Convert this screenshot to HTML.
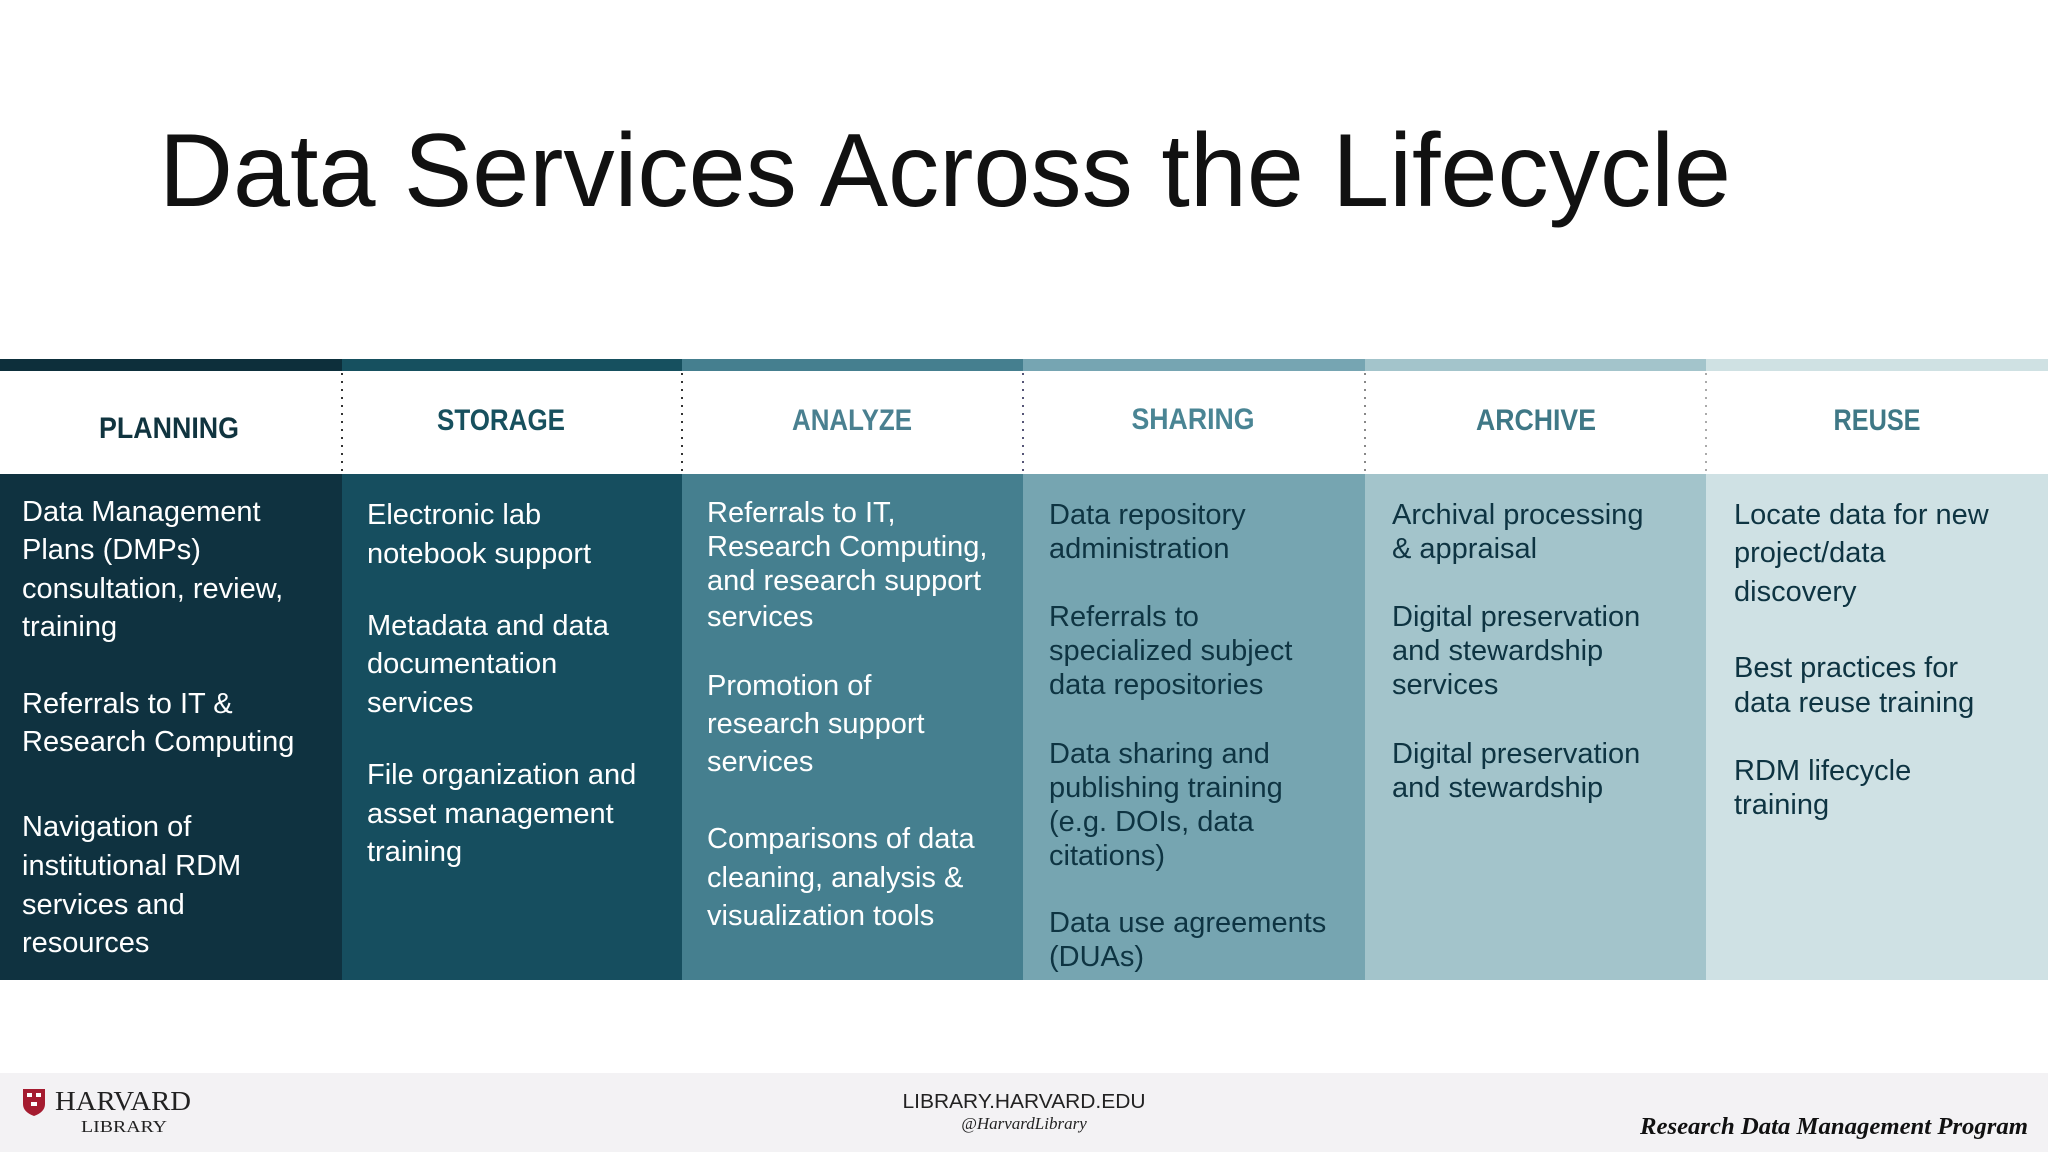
<!DOCTYPE html>
<html><head><meta charset="utf-8"><style>
html,body{margin:0;padding:0;background:#fff}
svg{display:block}
</style></head><body>
<svg width="2048" height="1152" viewBox="0 0 2048 1152" xmlns="http://www.w3.org/2000/svg" font-family="Liberation Sans, sans-serif">
<rect width="2048" height="1152" fill="#ffffff"/>
<text x="159" y="206" font-size="104" fill="#111" textLength="1572" lengthAdjust="spacingAndGlyphs">Data Services Across the Lifecycle</text>

<!-- top bar -->
<rect x="0" y="359" width="342" height="12" fill="#0d2f3b"/>
<rect x="342" y="359" width="340" height="12" fill="#16505f"/>
<rect x="682" y="359" width="341" height="12" fill="#457f8f"/>
<rect x="1023" y="359" width="342" height="12" fill="#76a5b2"/>
<rect x="1365" y="359" width="341" height="12" fill="#a3c4cb"/>
<rect x="1706" y="359" width="342" height="12" fill="#cfe1e3"/>

<!-- dotted separators -->
<g stroke-dasharray="2 6" stroke-width="2">
<line x1="342" y1="373" x2="342" y2="472" stroke="#333"/>
<line x1="682" y1="373" x2="682" y2="472" stroke="#333"/>
<line x1="1023" y1="373" x2="1023" y2="472" stroke="#557"/>
<line x1="1365" y1="373" x2="1365" y2="472" stroke="#888"/>
<line x1="1706" y1="373" x2="1706" y2="472" stroke="#aaa"/>
</g>

<!-- headers -->
<g font-weight="bold" font-size="30" text-anchor="middle">
<text x="169" y="438" fill="#10343f" textLength="140" lengthAdjust="spacingAndGlyphs">PLANNING</text>
<text x="501" y="430" fill="#17505e" textLength="128" lengthAdjust="spacingAndGlyphs">STORAGE</text>
<text x="852" y="430" fill="#4a8090" textLength="120" lengthAdjust="spacingAndGlyphs">ANALYZE</text>
<text x="1193" y="429" fill="#4a8594" textLength="123" lengthAdjust="spacingAndGlyphs">SHARING</text>
<text x="1536" y="430" fill="#3f7886" textLength="120" lengthAdjust="spacingAndGlyphs">ARCHIVE</text>
<text x="1877" y="430" fill="#3f7886" textLength="87" lengthAdjust="spacingAndGlyphs">REUSE</text>
</g>

<!-- body columns -->
<rect x="0" y="474" width="342" height="506" fill="#0f3240"/>
<rect x="342" y="474" width="340" height="506" fill="#164e5f"/>
<rect x="682" y="474" width="341" height="506" fill="#457f8f"/>
<rect x="1023" y="474" width="342" height="506" fill="#76a5b1"/>
<rect x="1365" y="474" width="341" height="506" fill="#a3c4cb"/>
<rect x="1706" y="474" width="342" height="506" fill="#cfe1e4"/>

<g font-size="29" fill="#fff">
<text x="22" y="521">Data Management</text>
<text x="22" y="559">Plans (DMPs)</text>
<text x="22" y="598">consultation, review,</text>
<text x="22" y="636">training</text>
<text x="22" y="713">Referrals to IT &amp;</text>
<text x="22" y="751">Research Computing</text>
<text x="22" y="836">Navigation of</text>
<text x="22" y="875">institutional RDM</text>
<text x="22" y="914">services and</text>
<text x="22" y="952">resources</text>

<text x="367" y="524">Electronic lab</text>
<text x="367" y="563">notebook support</text>
<text x="367" y="635">Metadata and data</text>
<text x="367" y="673">documentation</text>
<text x="367" y="712">services</text>
<text x="367" y="784">File organization and</text>
<text x="367" y="823">asset management</text>
<text x="367" y="861">training</text>

<text x="707" y="522">Referrals to IT,</text>
<text x="707" y="556">Research Computing,</text>
<text x="707" y="590">and research support</text>
<text x="707" y="626">services</text>
<text x="707" y="695">Promotion of</text>
<text x="707" y="733">research support</text>
<text x="707" y="771">services</text>
<text x="707" y="848">Comparisons of data</text>
<text x="707" y="887">cleaning, analysis &amp;</text>
<text x="707" y="925">visualization tools</text>
</g>
<g font-size="29" fill="#0e3442">
<text x="1049" y="524">Data repository</text>
<text x="1049" y="558">administration</text>
<text x="1049" y="626">Referrals to</text>
<text x="1049" y="660">specialized subject</text>
<text x="1049" y="694">data repositories</text>
<text x="1049" y="763">Data sharing and</text>
<text x="1049" y="797">publishing training</text>
<text x="1049" y="831">(e.g. DOIs, data</text>
<text x="1049" y="865">citations)</text>
<text x="1049" y="932">Data use agreements</text>
<text x="1049" y="966">(DUAs)</text>

<text x="1392" y="524">Archival processing</text>
<text x="1392" y="558">&amp; appraisal</text>
<text x="1392" y="626">Digital preservation</text>
<text x="1392" y="660">and stewardship</text>
<text x="1392" y="694">services</text>
<text x="1392" y="763">Digital preservation</text>
<text x="1392" y="797">and stewardship</text>

<text x="1734" y="524">Locate data for new</text>
<text x="1734" y="562">project/data</text>
<text x="1734" y="601">discovery</text>
<text x="1734" y="677">Best practices for</text>
<text x="1734" y="712">data reuse training</text>
<text x="1734" y="780">RDM lifecycle</text>
<text x="1734" y="814">training</text>
</g>

<!-- footer -->
<rect x="0" y="1073" width="2048" height="79" fill="#f3f2f4"/>
<path d="M23 1089 H45 V1104 Q45 1112 34 1116 Q23 1112 23 1104 Z" fill="#a51c30"/>
<g fill="#fff"><rect x="27" y="1093" width="5" height="4"/><rect x="36" y="1093" width="5" height="4"/><rect x="31" y="1102" width="6" height="4"/></g>
<text x="55" y="1110" font-family="Liberation Serif, serif" font-size="27" fill="#222" textLength="136" lengthAdjust="spacingAndGlyphs">HARVARD</text>
<text x="81" y="1132" font-family="Liberation Serif, serif" font-size="17" fill="#222" textLength="86" lengthAdjust="spacingAndGlyphs">LIBRARY</text>
<text x="1024" y="1108" text-anchor="middle" font-size="20" fill="#222" textLength="243" lengthAdjust="spacingAndGlyphs">LIBRARY.HARVARD.EDU</text>
<text x="1024" y="1129" text-anchor="middle" font-family="Liberation Serif, serif" font-style="italic" font-size="17" fill="#222">@HarvardLibrary</text>
<text x="2028" y="1134" text-anchor="end" font-family="Liberation Serif, serif" font-style="italic" font-weight="bold" font-size="24" fill="#111" textLength="388" lengthAdjust="spacingAndGlyphs">Research Data Management Program</text>
</svg>
</body></html>
